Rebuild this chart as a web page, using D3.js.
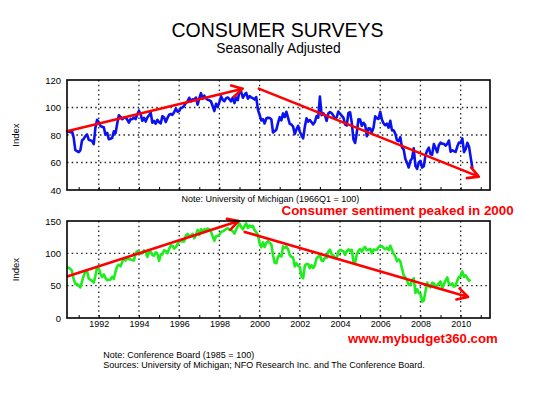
<!DOCTYPE html>
<html>
<head>
<meta charset="utf-8">
<script src="https://cdn.jsdelivr.net/npm/d3@7"></script>
<style>
body { margin: 0; background: #fff; }
svg { display: block; font-family: Arial, "Liberation Sans", sans-serif; }
</style>
</head>
<body>
<svg id="chart" width="545" height="395"></svg>
<script>
// monthly readings, first one sits at the left edge of the time axis
var firstMonth = 1990 + 5 / 12;

var michigan = [
    82.1, 82.9, 82.0, 83.0, 78.3, 69.1, 68.2,
    67.5, 68.8, 76.0, 77.2, 79.2, 80.4, 76.6, 76.1, 75.6, 73.3, 85.3, 91.0,
    89.3, 86.6, 85.9, 85.6, 80.3, 81.5, 77.0, 77.3, 77.9, 82.7, 81.2, 88.2,
    94.3, 93.2, 91.5, 92.6, 92.8, 91.2, 89.0, 91.7, 91.5, 92.7, 91.6, 95.1,
    97.6, 95.1, 90.3, 92.5, 89.8, 92.7, 94.4, 96.2, 88.9, 90.2, 88.2, 91.0,
    89.3, 88.5, 93.7, 92.7, 89.4, 92.4, 94.7, 95.3, 94.7, 96.5, 99.2, 96.9,
    97.4, 99.7, 100.0, 101.4, 103.2, 104.5, 107.1, 104.4, 106.0, 105.6, 107.2, 102.1,
    106.6, 110.4, 106.5, 108.7, 106.5, 105.6, 105.2, 104.4, 100.9, 97.4, 102.7, 100.5,
    103.9, 108.1, 105.7, 104.6, 106.8, 107.3, 106.0, 104.5, 107.2, 103.2, 107.2, 105.4,
    112.0, 111.3, 107.1, 109.2, 110.7, 106.4, 108.3, 107.3, 106.8, 105.8, 107.6, 98.4,
    94.7, 90.6, 91.5, 88.4, 92.0, 92.6, 92.4, 91.5, 81.8, 82.7, 83.9, 88.8,
    93.0, 90.7, 95.7, 93.0, 96.9, 92.4, 88.1, 87.6, 86.1, 80.6, 84.2, 86.7,
    82.4, 79.9, 77.6, 86.0, 92.1, 89.7, 90.9, 89.3, 87.7, 89.6, 93.7, 92.6,
    108.0, 94.4, 95.8, 94.2, 90.2, 95.6, 96.7, 95.9, 94.2, 91.7, 92.8, 97.1,
    95.5, 94.1, 92.6, 87.7, 86.9, 96.0, 96.5, 89.1, 76.9, 74.2, 81.6, 91.5,
    91.2, 86.7, 88.9, 87.4, 79.1, 84.9, 84.7, 82.0, 85.4, 93.6, 92.1, 91.7,
    96.9, 91.3, 88.4, 87.1, 88.3, 85.3, 90.4, 83.4, 83.4, 80.9, 76.1, 75.5,
    78.4, 70.8, 69.5, 62.6, 59.8, 56.4, 61.2, 63.0, 70.3, 57.6, 55.3, 60.1,
    61.2, 56.3, 57.3, 65.1, 68.7, 70.8, 66.0, 65.7, 73.5, 70.6, 67.4, 72.5,
    74.4, 73.6, 73.6, 72.2, 73.6, 76.0, 67.8, 68.9, 68.2, 67.7, 71.6, 74.5,
    74.2, 77.5, 67.5, 69.8, 74.3, 71.5, 63.7, 55.7
];

var confBoard = [
    78.0, 77.7, 76.1, 72.9, 60.1, 52.7, 52.5,
    50.2, 47.3, 56.5, 65.1, 71.9, 72.6, 61.2, 59.0, 57.3, 54.6, 65.6, 78.1,
    76.7, 68.5, 63.2, 67.6, 61.9, 58.6, 59.2, 59.3, 63.8, 60.5, 71.9, 79.8,
    82.6, 79.9, 86.7, 92.1, 88.9, 92.5, 91.3, 90.4, 89.5, 89.1, 100.4, 103.4,
    101.4, 99.4, 100.2, 104.6, 102.0, 94.6, 101.4, 102.4, 97.3, 96.3, 101.6, 99.2,
    88.4, 98.0, 98.4, 104.8, 103.5, 100.1, 107.0, 112.0, 111.8, 107.3, 109.5, 114.2,
    118.7, 118.9, 118.5, 118.5, 127.9, 129.9, 126.3, 127.6, 130.2, 123.4, 128.1, 136.2,
    128.3, 137.4, 133.8, 137.2, 136.3, 138.2, 137.2, 133.1, 126.4, 119.3, 126.4, 126.7,
    128.9, 133.1, 134.0, 135.5, 137.7, 139.0, 136.2, 136.0, 134.2, 130.5, 137.0, 141.7,
    146.0, 140.8, 137.1, 142.0, 146.5, 139.2, 143.0, 140.8, 142.5, 135.8, 132.6, 128.6,
    115.7, 109.2, 116.9, 109.9, 116.1, 118.9, 116.3, 114.0, 97.0, 85.3, 84.9, 94.6,
    97.8, 95.0, 110.7, 108.5, 110.3, 106.3, 97.4, 94.5, 93.7, 79.6, 84.9, 80.7,
    78.8, 64.8, 61.4, 81.0, 83.6, 83.5, 77.0, 81.7, 77.0, 81.7, 92.5, 94.8,
    97.7, 88.5, 88.5, 93.0, 93.1, 102.8, 105.7, 98.7, 96.7, 92.9, 92.6, 102.7,
    105.1, 104.4, 103.0, 97.5, 103.1, 106.2, 103.6, 105.5, 87.5, 85.2, 98.3, 103.8,
    106.8, 102.7, 107.5, 109.8, 104.7, 105.4, 107.0, 100.2, 105.9, 105.1, 105.3, 110.0,
    110.2, 111.2, 108.2, 106.3, 108.5, 105.3, 111.9, 105.6, 99.5, 95.2, 87.8, 90.6,
    87.3, 76.4, 65.9, 62.8, 58.1, 51.0, 51.9, 58.5, 61.4, 38.8, 44.7, 38.6,
    37.4, 25.3, 26.9, 40.8, 54.8, 49.3, 47.4, 54.5, 53.4, 48.7, 50.6, 53.6,
    56.5, 46.4, 52.3, 57.9, 62.7, 52.9, 51.0, 53.5, 48.6, 49.9, 57.8, 63.4,
    64.8, 72.0, 63.8, 66.0, 61.7, 57.6, 59.2
];

var yearLabels = [1992, 1994, 1996, 1998, 2000, 2002, 2004, 2006, 2008, 2010];
var minorYears = d3.range(1991, 2012);
var michiganTicks = [40, 60, 80, 100, 120];
var confTicks = [0, 50, 100, 150];

// trend arrows [fromYear, fromValue, toYear, toValue]
var michiganArrows = [[1990.42, 82.8, 1999.16, 113.7], [1999.96, 113.7, 2010.9, 49.7]];
var confArrows = [[1990.46, 64.4, 1998.96, 150.0], [1999.26, 133.1, 2010.37, 32.6]];

var svg = d3.select("#chart");

var x = d3.scaleLinear().domain([1990.42, 2011.46]).range([67, 490]);
var yTop = d3.scaleLinear().domain([40, 120]).range([190, 80]);
var yBot = d3.scaleLinear().domain([0, 150]).range([318, 221]);

function drawPanel(y, ticks, values, color, arrows, showYears) {
    var g = svg.append("g");
    var top = y.range()[1], bottom = y.range()[0];

    // dotted grid
    g.append("g").selectAll("line")
        .data(ticks.filter(t => y(t) > top + 1 && y(t) < bottom - 1))
        .join("line")
            .attr("x1", x.range()[0]).attr("x2", x.range()[1])
            .attr("y1", d => y(d)).attr("y2", d => y(d))
            .attr("stroke", "#222").attr("stroke-width", 1.3)
            .attr("stroke-dasharray", "1.5,3.2");
    g.append("g").selectAll("line")
        .data(yearLabels)
        .join("line")
            .attr("x1", d => x(d)).attr("x2", d => x(d))
            .attr("y1", top).attr("y2", bottom)
            .attr("stroke", "#222").attr("stroke-width", 1.3)
            .attr("stroke-dasharray", "1.5,3.2");

    // small inward year ticks
    g.append("g")
        .attr("transform", `translate(0,${bottom})`)
        .call(d3.axisBottom(x).tickValues(minorYears).tickSize(-3).tickFormat(""))
        .call(a => a.select(".domain").remove())
        .selectAll("line").attr("stroke", "#000");

    var yAxis = g.append("g")
        .attr("transform", `translate(${x.range()[0]},0)`)
        .call(d3.axisLeft(y).tickValues(ticks).tickSize(0).tickPadding(6));
    yAxis.select(".domain").remove();
    yAxis.selectAll("text").attr("font-size", 9.5).attr("font-family", null).attr("fill", "#000");

    if (showYears) {
        var xAxis = g.append("g")
            .attr("transform", `translate(0,${bottom})`)
            .call(d3.axisBottom(x).tickValues(yearLabels).tickFormat(d3.format("d")).tickSize(0).tickPadding(3));
        xAxis.select(".domain").remove();
        xAxis.selectAll("text").attr("font-size", 9).attr("font-family", null).attr("fill", "#000");
    }

    var line = d3.line()
        .x((d, i) => x(firstMonth + i / 12))
        .y(d => y(d));

    g.append("path")
        .datum(values)
        .attr("d", line)
        .attr("fill", "none")
        .attr("stroke", color)
        .attr("stroke-width", 2.6)
        .attr("stroke-linejoin", "round");

    // red arrows with open heads
    arrows.forEach(a => {
        var x1 = x(a[0]), y1 = y(a[1]), x2 = x(a[2]), y2 = y(a[3]);
        var ang = Math.atan2(y2 - y1, x2 - x1);
        var len = 12, spread = 0.5;
        var path = d3.path();
        path.moveTo(x1, y1);
        path.lineTo(x2, y2);
        path.moveTo(x2 - len * Math.cos(ang - spread), y2 - len * Math.sin(ang - spread));
        path.lineTo(x2, y2);
        path.lineTo(x2 - len * Math.cos(ang + spread), y2 - len * Math.sin(ang + spread));
        g.append("path")
            .attr("d", path.toString())
            .attr("fill", "none")
            .attr("stroke", "#f00")
            .attr("stroke-width", 2.6)
            .attr("stroke-linecap", "round")
            .attr("stroke-linejoin", "round");
    });

    g.append("rect")
        .attr("x", x.range()[0]).attr("y", top)
        .attr("width", x.range()[1] - x.range()[0])
        .attr("height", bottom - top)
        .attr("fill", "none")
        .attr("stroke", "#000")
        .attr("stroke-width", 1.6);

    g.append("text")
        .attr("transform", `translate(19,${(top + bottom) / 2}) rotate(-90)`)
        .attr("text-anchor", "middle")
        .attr("font-size", 9.5)
        .text("Index");
}

drawPanel(yTop, michiganTicks, michigan, "#0a12f2", michiganArrows, false);
drawPanel(yBot, confTicks, confBoard, "#1cee1c", confArrows, true);

// titles and notes
svg.append("text")
    .attr("x", 277.5).attr("y", 36.5)
    .attr("text-anchor", "middle")
    .attr("font-size", 19.5)
    .text("CONSUMER SURVEYS");

svg.append("text")
    .attr("x", 278.5).attr("y", 53)
    .attr("text-anchor", "middle")
    .attr("font-size", 13.8)
    .text("Seasonally Adjusted");

svg.append("text")
    .attr("x", 181.5).attr("y", 202.3)
    .attr("font-size", 9)
    .text("Note: University of Michigan (1966Q1 = 100)");

svg.append("text")
    .attr("x", 281.5).attr("y", 214.5)
    .attr("font-size", 13.4)
    .attr("font-weight", "bold")
    .attr("fill", "#f00")
    .text("Consumer sentiment peaked in 2000");

svg.append("text")
    .attr("x", 348).attr("y", 342.5)
    .attr("font-size", 13.2)
    .attr("font-weight", "bold")
    .attr("fill", "#f00")
    .text("www.mybudget360.com");

svg.append("text")
    .attr("x", 103.3).attr("y", 358.3)
    .attr("font-size", 9)
    .text("Note: Conference Board (1985 = 100)");

svg.append("text")
    .attr("x", 103.3).attr("y", 368.3)
    .attr("font-size", 9)
    .text("Sources: University of Michigan; NFO Research Inc. and The Conference Board.");
</script>
</body>
</html>
